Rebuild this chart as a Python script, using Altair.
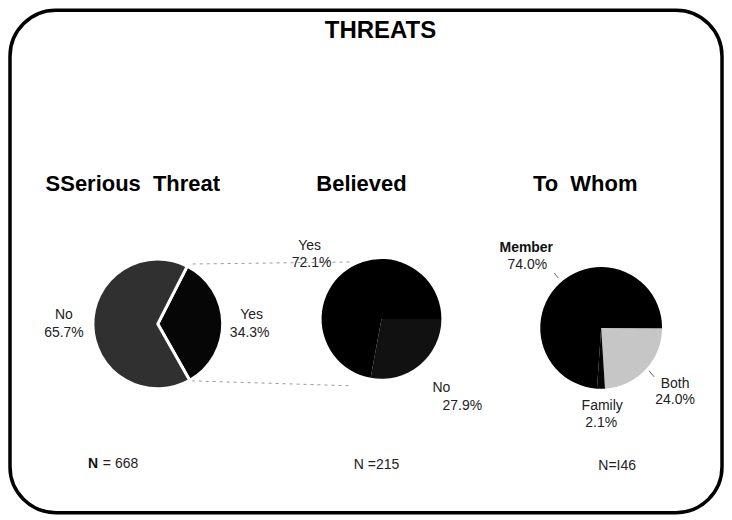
import altair as alt
import pandas as pd

W, H = 716, 504
M = 8  # page margin; layout numbers below are page pixels
FONT = "Liberation Sans"

# ---- data ----
title_text = "THREATS"
panel_titles = ["SSerious\u00a0 Threat", "Believed", "To\u00a0 Whom"]

serious_cats = ["Yes", "No"]
serious_vals = [34.3, 65.7]
believed_cats = ["No", "Yes"]
believed_vals = [27.9, 72.1]
whom_cats = ["Both", "Family", "Member"]
whom_vals = [24.0, 2.1, 74.0]
n_counts = ["668", "215", "I46"]


def pct(v):
    return f"{v:.1f}%"


def table(rows, cols):
    df = pd.DataFrame(rows, columns=cols)
    for c in cols:
        if c.startswith("x") or c.startswith("y"):
            df[c] = df[c] - M
    return df


def pie_layer(cats, vals, colors, start_deg, cx, cy, r, stroke=None, sw=0):
    df = pd.DataFrame({"cat": cats, "val": vals, "ord": list(range(len(cats)))})
    kw = dict(radius=r)
    if stroke:
        kw.update(stroke=stroke, strokeWidth=sw)
    return (
        alt.Chart(df)
        .transform_window(cum="sum(val)", sort=[alt.SortField("ord")])
        .transform_calculate(
            t0=f"{start_deg}*PI/180 + (datum.cum - datum.val)/100*2*PI",
            t1=f"{start_deg}*PI/180 + datum.cum/100*2*PI",
        )
        .mark_arc(**kw)
        .encode(
            theta=alt.Theta("t0:Q", scale=None),
            theta2="t1:Q",
            fill=alt.Fill("cat:N", scale=alt.Scale(domain=cats, range=colors), legend=None),
            x=alt.value(cx - M),
            y=alt.value(cy - M),
        )
    )


def text_layer(rows, size, weight="normal", color="#222", align="center"):
    df = table(rows, ["t", "x", "y"])
    return (
        alt.Chart(df)
        .mark_text(fontSize=size, fontWeight=weight, color=color, font=FONT,
                   align=align, baseline="middle")
        .encode(x=alt.X("x:Q", scale=None), y=alt.Y("y:Q", scale=None), text="t:N")
    )


def segs(rows, color, width, dash=None):
    df = table(rows, ["x", "y", "x2", "y2"])
    kw = dict(color=color, strokeWidth=width)
    if dash:
        kw["strokeDash"] = dash
    return (
        alt.Chart(df)
        .mark_rule(**kw)
        .encode(x=alt.X("x:Q", scale=None), y=alt.Y("y:Q", scale=None),
                x2="x2:Q", y2="y2:Q")
    )


border = (
    alt.Chart(table([(10, 9, 723, 512)], ["x", "y", "x2", "y2"]))
    .mark_rect(cornerRadius=46, fill="white", fillOpacity=0, stroke="black", strokeWidth=3.5)
    .encode(x=alt.X("x:Q", scale=None), y=alt.Y("y:Q", scale=None), x2="x2:Q", y2="y2:Q")
)

title = text_layer([(title_text, 381, 30)], 24, "bold", "black")
subs = text_layer([(panel_titles[0], 133, 183), (panel_titles[1], 362, 183),
                   (panel_titles[2], 586, 183)], 22, "bold", "black")

connectors = segs([(193, 263, 352, 261), (192, 380, 352, 385)], "#9a9a9a", 1, [3, 4])
ticks = segs([(555, 272, 559, 277), (650, 370, 655, 376)], "#666", 1)

pie1 = pie_layer(serious_cats, serious_vals, ["#060606", "#303030"], 27, 158, 323, 65,
                 stroke="white", sw=3)
pie2 = pie_layer(believed_cats, believed_vals, ["#111111", "#000000"], 90, 382, 318, 60)
pie3 = pie_layer(whom_cats, whom_vals, ["#c6c6c6", "#050505", "#000000"], 90, 602, 327, 61)

labels = text_layer([
    (serious_cats[1], 64, 314), (pct(serious_vals[1]), 64, 332),
    (serious_cats[0], 252, 314), (pct(serious_vals[0]), 250, 332),
    (believed_cats[1], 310, 245), (pct(believed_vals[1]), 312, 262),
    (believed_cats[0], 442, 387), (pct(believed_vals[0]), 463, 405),
    (pct(whom_vals[2]), 528, 264),
    (whom_cats[0], 676, 383), (pct(whom_vals[0]), 676, 399),
    (whom_cats[1], 603, 405), (pct(whom_vals[1]), 602, 422),
], 14)
member = text_layer([(whom_cats[2], 527, 247)], 14, "bold", "#111")

n_bold = text_layer([("N", 88, 463)], 14, "bold", "#111", align="left")
n_rest = text_layer([("= " + n_counts[0], 103, 463)], 14, align="left")
n_other = text_layer([("N =" + n_counts[1], 377, 464), ("N=" + n_counts[2], 618, 465)], 14)

chart = (
    alt.layer(border, connectors, ticks, pie1, pie2, pie3, title, subs, labels, member,
              n_bold, n_rest, n_other)
    .resolve_scale(fill="independent")
    .properties(width=W, height=H, padding=0, background="white")
    .configure_view(stroke=None)
)

chart.save("out.html", embed_options={"renderer": "svg", "actions": False})
